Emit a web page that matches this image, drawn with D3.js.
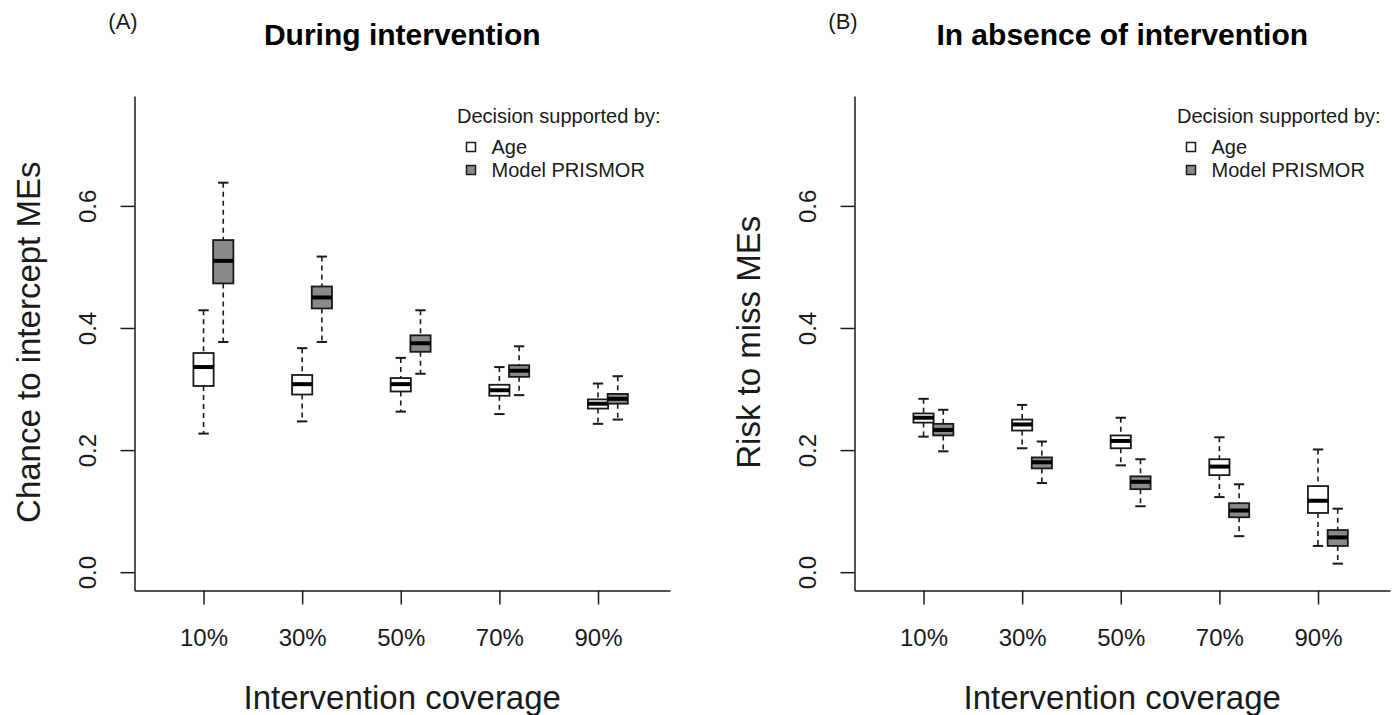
<!DOCTYPE html>
<html>
<head>
<meta charset="utf-8">
<script src="https://cdn.jsdelivr.net/npm/d3@7"></script>
<style>
  body { margin: 0; background: #fff; }
  svg { display: block; font-family: "Liberation Sans", Arial, sans-serif; }
</style>
</head>
<body>
<svg id="chart" width="1393" height="715"></svg>
<script>
// categories
var coverage = ["10%", "30%", "50%", "70%", "90%"];
var groupNames = ["Age", "Model PRISMOR"];
var yTicks = [0, 0.2, 0.4, 0.6];

// (A) during intervention - decision by age
var ageA_lo  = [0.227, 0.247, 0.263, 0.259, 0.243];
var ageA_q1  = [0.305, 0.291, 0.296, 0.289, 0.268];
var ageA_med = [0.336, 0.308, 0.308, 0.298, 0.276];
var ageA_q3  = [0.359, 0.323, 0.318, 0.307, 0.283];
var ageA_hi  = [0.429, 0.367, 0.351, 0.336, 0.309];
// (A) during intervention - decision by model PRISMOR
var priA_lo  = [0.377, 0.377, 0.325, 0.290, 0.250];
var priA_q1  = [0.473, 0.432, 0.361, 0.320, 0.276];
var priA_med = [0.510, 0.450, 0.375, 0.330, 0.284];
var priA_q3  = [0.544, 0.468, 0.388, 0.339, 0.292];
var priA_hi  = [0.638, 0.517, 0.429, 0.370, 0.321];

// (B) in absence of intervention - age
var ageB_lo  = [0.222, 0.203, 0.175, 0.123, 0.043];
var ageB_q1  = [0.245, 0.232, 0.203, 0.159, 0.097];
var ageB_med = [0.253, 0.242, 0.215, 0.173, 0.117];
var ageB_q3  = [0.260, 0.250, 0.224, 0.185, 0.141];
var ageB_hi  = [0.284, 0.274, 0.253, 0.221, 0.201];
// (B) in absence of intervention - model PRISMOR
var priB_lo  = [0.198, 0.146, 0.108, 0.059, 0.014];
var priB_q1  = [0.224, 0.170, 0.136, 0.090, 0.043];
var priB_med = [0.233, 0.180, 0.148, 0.101, 0.057];
var priB_q3  = [0.243, 0.188, 0.157, 0.113, 0.069];
var priB_hi  = [0.266, 0.214, 0.185, 0.144, 0.104];

var fills = ["#ffffff", "#8a8a8a"];
var ink = "#1a1a1a";
var font = "\"Liberation Sans\", Arial, sans-serif";

function buildBoxes(series) {
  // series: [[lo,q1,med,q3,hi] for age, same for prismor]
  var out = [];
  series.forEach(function (s, g) {
    coverage.forEach(function (c, i) {
      out.push({
        group: g,
        pos: i + 1 + g * 0.2,
        lo: s[0][i], q1: s[1][i], med: s[2][i], q3: s[3][i], hi: s[4][i]
      });
    });
  });
  return out;
}

var panels = [
  {
    tag: "(A)", title: "During intervention", ylab: "Chance to intercept MEs", left: 134.5,
    boxes: buildBoxes([[ageA_lo, ageA_q1, ageA_med, ageA_q3, ageA_hi],
                       [priA_lo, priA_q1, priA_med, priA_q3, priA_hi]])
  },
  {
    tag: "(B)", title: "In absence of intervention", ylab: "Risk to miss MEs", left: 854.5,
    boxes: buildBoxes([[ageB_lo, ageB_q1, ageB_med, ageB_q3, ageB_hi],
                       [priB_lo, priB_q1, priB_med, priB_q3, priB_hi]])
  }
];

var svg = d3.select("#chart");
var plotW = 535.5;
var plotTop = 96, plotBottom = 590.5;

panels.forEach(function (p) {
  var x = d3.scaleLinear().domain([0.30, 5.73]).range([p.left, p.left + plotW]);
  var y = d3.scaleLinear().domain([-0.03, 0.78]).range([plotBottom, plotTop]);
  var g = svg.append("g");

  // axes
  var xAxis = g.append("g")
    .attr("transform", "translate(0," + plotBottom + ")")
    .call(d3.axisBottom(x)
      .tickValues([1, 2, 3, 4, 5])
      .tickFormat(function (d) { return coverage[d - 1]; })
      .tickSize(14)
      .tickSizeOuter(0));
  xAxis.selectAll("text")
    .attr("y", 55.5).attr("dy", 0)
    .style("font-size", "24px").style("font-family", font).attr("fill", ink);

  var yAxis = g.append("g")
    .attr("transform", "translate(" + p.left + ",0)")
    .call(d3.axisLeft(y)
      .tickValues(yTicks)
      .tickFormat(d3.format(".1f"))
      .tickSize(14)
      .tickSizeOuter(0));
  yAxis.selectAll("text")
    .attr("x", 0).attr("y", 0).attr("dy", 0)
    .attr("text-anchor", "middle")
    .attr("dominant-baseline", "central")
    .attr("transform", "translate(-47,0) rotate(-90)")
    .style("font-size", "24px").style("font-family", font).attr("fill", ink);

  g.selectAll(".domain, .tick line").attr("stroke", ink).attr("stroke-width", 1.5);

  // axis titles
  g.append("text")
    .attr("x", (x.range()[0] + x.range()[1]) / 2)
    .attr("y", 697)
    .attr("dominant-baseline", "central")
    .attr("text-anchor", "middle")
    .style("font-size", "33px").style("font-family", font).attr("fill", ink)
    .text("Intervention coverage");

  g.append("text")
    .attr("transform", "translate(" + (p.left - 106) + "," + ((plotTop + plotBottom) / 2 - 1) + ") rotate(-90)")
    .attr("dominant-baseline", "central")
    .attr("text-anchor", "middle")
    .style("font-size", "33px").style("font-family", font).attr("fill", ink)
    .text(p.ylab);

  // title and panel tag
  g.append("text")
    .attr("x", (x.range()[0] + x.range()[1]) / 2)
    .attr("y", 45)
    .attr("text-anchor", "middle")
    .style("font-size", "30px").style("font-weight", "bold").style("font-family", font)
    .attr("fill", "#000")
    .text(p.title);

  g.append("text")
    .attr("x", p.left - 11.5)
    .attr("y", 29)
    .attr("text-anchor", "middle")
    .style("font-size", "22px").style("font-family", font).attr("fill", ink)
    .text(p.tag);

  // boxplots
  var bw = 0.205, cw = 0.105;
  var box = g.selectAll(".bx").data(p.boxes).enter().append("g").attr("class", "bx");

  // dashed whiskers
  box.append("line")
    .attr("x1", function (d) { return x(d.pos); })
    .attr("x2", function (d) { return x(d.pos); })
    .attr("y1", function (d) { return y(d.hi); })
    .attr("y2", function (d) { return y(d.q3); })
    .attr("stroke", ink).attr("stroke-width", 1.6).attr("stroke-dasharray", "5,4");
  box.append("line")
    .attr("x1", function (d) { return x(d.pos); })
    .attr("x2", function (d) { return x(d.pos); })
    .attr("y1", function (d) { return y(d.q1); })
    .attr("y2", function (d) { return y(d.lo); })
    .attr("stroke", ink).attr("stroke-width", 1.6).attr("stroke-dasharray", "5,4");

  // staples
  ["hi", "lo"].forEach(function (k) {
    box.append("line")
      .attr("x1", function (d) { return x(d.pos - cw / 2); })
      .attr("x2", function (d) { return x(d.pos + cw / 2); })
      .attr("y1", function (d) { return y(d[k]); })
      .attr("y2", function (d) { return y(d[k]); })
      .attr("stroke", ink).attr("stroke-width", 2);
  });

  // boxes
  box.append("rect")
    .attr("x", function (d) { return x(d.pos - bw / 2); })
    .attr("width", function (d) { return x(d.pos + bw / 2) - x(d.pos - bw / 2); })
    .attr("y", function (d) { return y(d.q3); })
    .attr("height", function (d) { return y(d.q1) - y(d.q3); })
    .attr("fill", function (d) { return fills[d.group]; })
    .attr("stroke", ink).attr("stroke-width", 1.8);

  // medians
  box.append("line")
    .attr("x1", function (d) { return x(d.pos - bw / 2); })
    .attr("x2", function (d) { return x(d.pos + bw / 2); })
    .attr("y1", function (d) { return y(d.med); })
    .attr("y2", function (d) { return y(d.med); })
    .attr("stroke", "#000").attr("stroke-width", 4);

  // legend
  var lg = g.append("g");
  lg.append("text")
    .attr("x", p.left + 526)
    .attr("y", 123)
    .attr("text-anchor", "end")
    .style("font-size", "20px").style("font-family", font).attr("fill", ink)
    .text("Decision supported by:");
  var item = lg.selectAll(".li").data(groupNames).enter().append("g").attr("class", "li")
    .attr("transform", function (d, i) { return "translate(0," + (147 + i * 23) + ")"; });
  item.append("rect")
    .attr("x", p.left + 332).attr("y", -4.5)
    .attr("width", 9).attr("height", 9)
    .attr("fill", function (d, i) { return fills[i]; })
    .attr("stroke", ink).attr("stroke-width", 1.5);
  item.append("text")
    .attr("x", p.left + 357)
    .attr("y", 0)
    .attr("dominant-baseline", "central")
    .style("font-size", "20px").style("font-family", font).attr("fill", ink)
    .text(function (d) { return d; });
});
</script>
</body>
</html>
